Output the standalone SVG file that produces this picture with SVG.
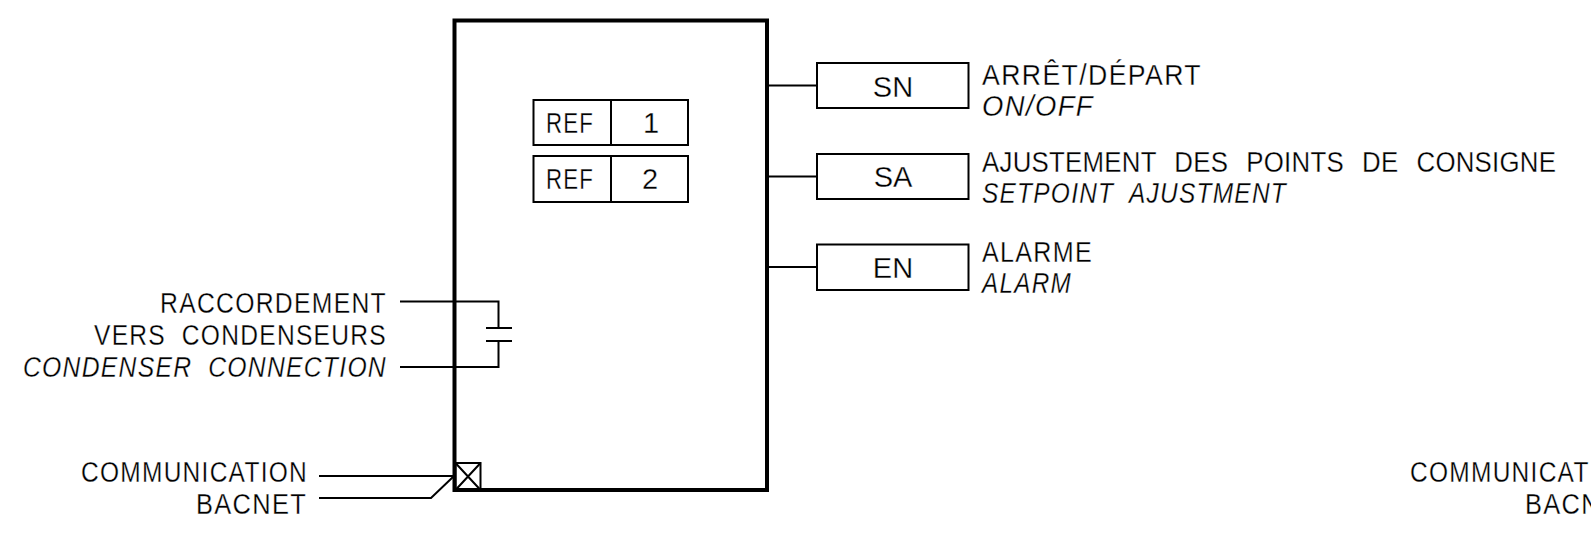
<svg xmlns="http://www.w3.org/2000/svg" width="1591" height="539" viewBox="0 0 1591 539">
<style>
.l{fill:none;stroke:#000;stroke-width:2}
.b{fill:none;stroke:#000;stroke-width:4}
text{font-family:"Liberation Sans",Arial,sans-serif;font-size:29px;fill:#000;stroke:#fff;stroke-width:.3px;letter-spacing:1.5px;word-spacing:9px}
.i{font-style:italic}
.m{text-anchor:middle;letter-spacing:0}
.t{letter-spacing:.3px;word-spacing:12px}
</style>
<rect width="1591" height="539" fill="#fff"/>
<g id="controller"><rect class="b" x="454.500" y="20.500" width="312.500" height="469.500"/></g>
<g id="ref1"><rect class="l" x="533.500" y="100" width="154.500" height="45"/><path class="l" d="M611 100V145"/>
<text x="546" y="133" textLength="48" lengthAdjust="spacingAndGlyphs">REF</text><text class="m" x="651" y="133">1</text></g>
<g id="ref2"><rect class="l" x="533.500" y="156" width="154.500" height="46"/><path class="l" d="M611 156V202"/>
<text x="546" y="189" textLength="48" lengthAdjust="spacingAndGlyphs">REF</text><text class="m" x="650" y="189">2</text></g>
<g id="sn"><rect class="l" x="817" y="63" width="151.500" height="45"/><text class="m" x="893" y="97">SN</text></g>
<g id="sa"><rect class="l" x="817" y="154" width="151.500" height="45"/><text class="m" x="893" y="187">SA</text></g>
<g id="en"><rect class="l" x="817" y="244.500" width="151.500" height="45.500"/><text class="m" x="893" y="278">EN</text></g>
<g id="connectors">
<path class="l" d="M767 85.500H817M767 176.500H817M767 267H817"/>
<path class="l" d="M400 301.500H498.500V328M486 328H512M486 341H512M498.500 341V367H400"/>
<path class="l" d="M319 476H454M319 498H431L454 476"/>
</g>
<g id="port"><rect class="l" x="455.500" y="463" width="25" height="27"/><path class="l" d="M455.500 463L480.500 490M480.500 463L455.500 490"/></g>
<g id="labels">
<text x="982" y="85" textLength="220" lengthAdjust="spacingAndGlyphs">ARRÊT/DÉPART</text>
<text class="i" x="982" y="116" textLength="112" lengthAdjust="spacingAndGlyphs">ON/OFF</text>
<text class="t" transform="translate(982 172) scale(.89 1)">AJUSTEMENT DES POINTS DE CONSIGNE</text>
<text class="i" x="982" y="203" textLength="305" lengthAdjust="spacingAndGlyphs">SETPOINT AJUSTMENT</text>
<text x="982" y="262" textLength="111" lengthAdjust="spacingAndGlyphs">ALARME</text>
<text class="i" x="982" y="293" textLength="90" lengthAdjust="spacingAndGlyphs">ALARM</text>
<text x="160" y="313" textLength="227" lengthAdjust="spacingAndGlyphs">RACCORDEMENT</text>
<text x="94" y="345" textLength="293" lengthAdjust="spacingAndGlyphs">VERS CONDENSEURS</text>
<text class="i" x="23" y="377" textLength="364" lengthAdjust="spacingAndGlyphs">CONDENSER CONNECTION</text>
<text x="81" y="482" textLength="227" lengthAdjust="spacingAndGlyphs">COMMUNICATION</text>
<text x="196" y="514" textLength="111" lengthAdjust="spacingAndGlyphs">BACNET</text>
<text x="1410" y="482" textLength="227" lengthAdjust="spacingAndGlyphs">COMMUNICATION</text>
<text x="1525" y="514" textLength="111" lengthAdjust="spacingAndGlyphs">BACNET</text>
</g>
</svg>
